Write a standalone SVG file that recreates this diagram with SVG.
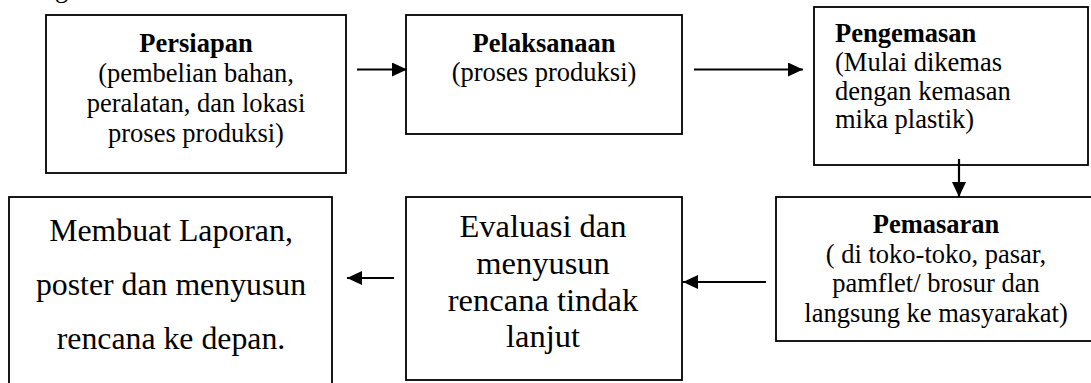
<svg xmlns="http://www.w3.org/2000/svg" width="1091" height="383" viewBox="0 0 1091 383">
<style>
text{font-family:'Liberation Serif','Times New Roman',Times,'DejaVu Serif',serif;fill:#000}
.box{fill:#fff;stroke:#000;stroke-width:1.8}
.s{font-size:26.5px}
.b{font-weight:bold}
.L{font-size:32.5px}
.M{font-size:31.8px}
.c{text-anchor:middle}
.conn line{stroke:#000;stroke-width:2.2}
</style>
<defs>
<marker id="ah" markerUnits="userSpaceOnUse" markerWidth="16" markerHeight="16" refX="15" refY="7" orient="auto">
<path d="M0,0 L15,7 L0,14 Z" fill="#000"/>
</marker>
</defs>
<rect width="1091" height="383" fill="#fff"/>
<text class="s" x="55" y="-3">g</text>
<g id="persiapan">
<rect class="box" x="46" y="15" width="300" height="158"/>
<text class="s c"><tspan class="b" x="196" y="52">Persiapan</tspan><tspan x="196" y="82">(pembelian bahan,</tspan><tspan x="196" y="112">peralatan, dan lokasi</tspan><tspan x="196" y="142">proses produksi)</tspan></text>
</g>
<g id="pelaksanaan">
<rect class="box" x="406" y="15" width="276" height="119"/>
<text class="s c"><tspan class="b" x="544" y="52">Pelaksanaan</tspan><tspan x="544" y="81">(proses produksi)</tspan></text>
</g>
<g id="pengemasan">
<rect class="box" x="814" y="7" width="274" height="158"/>
<text class="s"><tspan class="b" x="835" y="42">Pengemasan</tspan><tspan x="835" y="71">(Mulai dikemas</tspan><tspan x="835" y="100">dengan kemasan</tspan><tspan x="835" y="128">mika plastik)</tspan></text>
</g>
<g id="pemasaran">
<rect class="box" x="776" y="197" width="320" height="144"/>
<text class="s c"><tspan class="b" x="936" y="233">Pemasaran</tspan><tspan x="936" y="263">( di toko-toko, pasar,</tspan><tspan x="936" y="292">pamflet/ brosur dan</tspan><tspan x="936" y="322">langsung ke masyarakat)</tspan></text>
</g>
<g id="evaluasi">
<rect class="box" x="406" y="197" width="276" height="183"/>
<text class="L c"><tspan x="543" y="237">Evaluasi dan</tspan><tspan x="543" y="274">menyusun</tspan><tspan x="543" y="311">rencana tindak</tspan><tspan x="543" y="347">lanjut</tspan></text>
</g>
<g id="laporan">
<rect class="box" x="9" y="197" width="323" height="200"/>
<text class="M c"><tspan x="171" y="241">Membuat Laporan,</tspan><tspan x="171" y="295">poster dan menyusun</tspan><tspan x="171" y="349">rencana ke depan.</tspan></text>
</g>
<g id="connectors" class="conn">
<line x1="357" y1="69.5" x2="407" y2="69.5" marker-end="url(#ah)"/>
<line x1="694" y1="69.5" x2="803" y2="69.5" marker-end="url(#ah)"/>
<line x1="959" y1="159" x2="959" y2="197" marker-end="url(#ah)"/>
<line x1="766" y1="282" x2="683" y2="282" marker-end="url(#ah)"/>
<line x1="394" y1="278" x2="347" y2="278" marker-end="url(#ah)"/>
</g>
</svg>
